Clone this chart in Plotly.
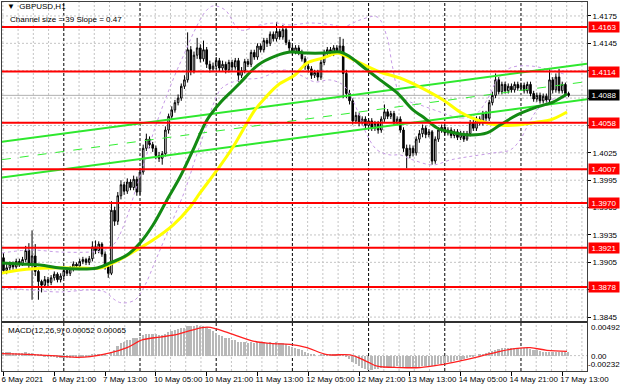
import plotly.graph_objects as go

# ---------------- data ----------------
opens = [1.3910,1.3896,1.3899,1.3903,1.3900,1.3906,1.3904,1.3908,1.3918,1.3903,
1.3912,1.3895,1.3884,1.3880,1.3886,1.3883,1.3888,1.3892,1.3886,1.3890,
1.3896,1.3893,1.3898,1.3903,1.3901,1.3906,1.3908,1.3905,1.3909,1.3922,
1.3918,1.3925,1.3914,1.3900,1.3893,1.3962,1.3950,1.3978,1.3990,1.3983,
1.3993,1.3987,1.3996,1.3982,1.4004,1.4030,1.4040,1.4034,1.4030,1.4022,
1.4019,1.4024,1.4050,1.4065,1.4072,1.4080,1.4085,1.4098,1.4105,1.4138,
1.4115,1.4132,1.4140,1.4128,1.4138,1.4122,1.4117,1.4120,1.4126,1.4118,
1.4122,1.4116,1.4124,1.4119,1.4126,1.4110,1.4115,1.4125,1.4122,1.4135,
1.4130,1.4142,1.4138,1.4148,1.4145,1.4155,1.4150,1.4158,1.4152,1.4160,
1.4146,1.4140,1.4136,1.4140,1.4135,1.4128,1.4120,1.4117,1.4110,1.4113,
1.4108,1.4124,1.4135,1.4138,1.4134,1.4140,1.4136,1.4142,1.4112,1.4090,
1.4082,1.4060,1.4066,1.4058,1.4062,1.4055,1.4060,1.4052,1.4057,1.4050,
1.4062,1.4070,1.4065,1.4068,1.4058,1.4062,1.4050,1.4030,1.4022,1.4030,
1.4025,1.4040,1.4046,1.4052,1.4045,1.4048,1.4016,1.4040,1.4050,1.4053,
1.4047,1.4050,1.4044,1.4048,1.4042,1.4046,1.4040,1.4046,1.4058,1.4052,
1.4062,1.4058,1.4068,1.4063,1.4080,1.4088,1.4105,1.4092,1.4100,1.4093,
1.4098,1.4094,1.4100,1.4096,1.4099,1.4093,1.4100,1.4090,1.4084,1.4088,
1.4082,1.4087,1.4083,1.4105,1.4094,1.4108,1.4093,1.4100,1.4090]

highs = [1.3915,1.3903,1.3906,1.3906,1.3909,1.3909,1.3911,1.3923,1.3926,1.3940,
1.3925,1.3900,1.3886,1.3890,1.3889,1.3891,1.3895,1.3894,1.3893,1.3899,
1.3899,1.3901,1.3906,1.3905,1.3909,1.3911,1.3910,1.3912,1.3928,1.3929,
1.3928,1.3927,1.3917,1.3903,1.3972,1.3966,1.3982,1.3995,1.3993,1.3997,
1.3996,1.4000,1.3999,1.4008,1.4034,1.4046,1.4043,1.4037,1.4033,1.4026,
1.4027,1.4054,1.4068,1.4076,1.4083,1.4089,1.4101,1.4110,1.4157,1.4142,
1.4136,1.4151,1.4144,1.4148,1.4141,1.4126,1.4124,1.4130,1.4129,1.4126,
1.4125,1.4127,1.4127,1.4129,1.4129,1.4119,1.4128,1.4128,1.4138,1.4138,
1.4145,1.4145,1.4151,1.4151,1.4158,1.4158,1.4168,1.4161,1.4165,1.4162,
1.4149,1.4143,1.4143,1.4143,1.4138,1.4131,1.4123,1.4120,1.4116,1.4116,
1.4127,1.4138,1.4141,1.4141,1.4143,1.4143,1.4152,1.4150,1.4116,1.4094,
1.4085,1.4070,1.4069,1.4065,1.4065,1.4063,1.4063,1.4060,1.4060,1.4065,
1.4078,1.4073,1.4071,1.4071,1.4065,1.4065,1.4053,1.4034,1.4034,1.4033,
1.4043,1.4050,1.4056,1.4055,1.4051,1.4050,1.4043,1.4053,1.4056,1.4056,
1.4053,1.4053,1.4051,1.4051,1.4049,1.4049,1.4049,1.4061,1.4061,1.4065,
1.4065,1.4071,1.4071,1.4083,1.4092,1.4112,1.4108,1.4103,1.4103,1.4101,
1.4101,1.4103,1.4103,1.4102,1.4102,1.4103,1.4103,1.4093,1.4091,1.4091,
1.4090,1.4090,1.4118,1.4108,1.4112,1.4117,1.4103,1.4102,1.4092]

lows = [1.3893,1.3892,1.3896,1.3897,1.3898,1.3900,1.3901,1.3905,1.3898,1.3864,
1.3890,1.3864,1.3872,1.3877,1.3879,1.3880,1.3885,1.3883,1.3883,1.3887,
1.3890,1.3890,1.3895,1.3898,1.3898,1.3903,1.3902,1.3902,1.3906,1.3914,
1.3915,1.3911,1.3897,1.3888,1.3891,1.3945,1.3946,1.3974,1.3979,1.3980,
1.3984,1.3984,1.3978,1.3979,1.4001,1.4027,1.4030,1.4026,1.4018,1.4015,
1.4012,1.4021,1.4046,1.4062,1.4069,1.4077,1.4082,1.4095,1.4102,1.4110,
1.4112,1.4128,1.4124,1.4125,1.4118,1.4113,1.4114,1.4117,1.4114,1.4115,
1.4112,1.4113,1.4115,1.4116,1.4103,1.4107,1.4112,1.4119,1.4119,1.4127,
1.4127,1.4135,1.4135,1.4141,1.4142,1.4147,1.4147,1.4149,1.4149,1.4143,
1.4136,1.4132,1.4133,1.4132,1.4125,1.4116,1.4113,1.4106,1.4107,1.4104,
1.4105,1.4121,1.4132,1.4131,1.4131,1.4133,1.4133,1.4085,1.4085,1.4078,
1.4056,1.4057,1.4054,1.4055,1.4051,1.4052,1.4049,1.4049,1.4046,1.4047,
1.4059,1.4062,1.4062,1.4055,1.4055,1.4047,1.4026,1.4008,1.4019,1.4021,
1.4022,1.4036,1.4042,1.4041,1.4042,1.4012,1.4013,1.4037,1.4047,1.4044,
1.4044,1.4041,1.4041,1.4039,1.4039,1.4037,1.4038,1.4043,1.4049,1.4049,
1.4055,1.4055,1.4060,1.4060,1.4077,1.4085,1.4089,1.4089,1.4090,1.4090,
1.4091,1.4091,1.4093,1.4093,1.4090,1.4090,1.4087,1.4081,1.4081,1.4079,
1.4079,1.4080,1.4080,1.4090,1.4091,1.4090,1.4090,1.4087,1.4086]

closes = [1.3896,1.3899,1.3903,1.3900,1.3906,1.3904,1.3908,1.3918,1.3903,1.3912,
1.3895,1.3884,1.3880,1.3886,1.3883,1.3888,1.3892,1.3886,1.3890,1.3896,
1.3893,1.3898,1.3903,1.3901,1.3906,1.3908,1.3905,1.3909,1.3922,1.3918,
1.3925,1.3914,1.3900,1.3893,1.3962,1.3950,1.3978,1.3990,1.3983,1.3993,
1.3987,1.3996,1.3982,1.4004,1.4030,1.4040,1.4034,1.4030,1.4022,1.4019,
1.4024,1.4050,1.4065,1.4072,1.4080,1.4085,1.4098,1.4105,1.4138,1.4115,
1.4132,1.4140,1.4128,1.4138,1.4122,1.4117,1.4120,1.4126,1.4118,1.4122,
1.4116,1.4124,1.4119,1.4126,1.4110,1.4115,1.4125,1.4122,1.4135,1.4130,
1.4142,1.4138,1.4148,1.4145,1.4155,1.4150,1.4158,1.4152,1.4160,1.4146,
1.4140,1.4136,1.4140,1.4135,1.4128,1.4120,1.4117,1.4110,1.4113,1.4108,
1.4124,1.4135,1.4138,1.4134,1.4140,1.4136,1.4142,1.4112,1.4090,1.4082,
1.4060,1.4066,1.4058,1.4062,1.4055,1.4060,1.4052,1.4057,1.4050,1.4062,
1.4070,1.4065,1.4068,1.4058,1.4062,1.4050,1.4030,1.4022,1.4030,1.4025,
1.4040,1.4046,1.4052,1.4045,1.4048,1.4016,1.4040,1.4050,1.4053,1.4047,
1.4050,1.4044,1.4048,1.4042,1.4046,1.4040,1.4046,1.4058,1.4052,1.4062,
1.4058,1.4068,1.4063,1.4080,1.4088,1.4105,1.4092,1.4100,1.4093,1.4098,
1.4094,1.4100,1.4096,1.4099,1.4093,1.4100,1.4090,1.4084,1.4088,1.4082,
1.4087,1.4083,1.4105,1.4094,1.4108,1.4093,1.4100,1.4090,1.4088]

# time-axis labels (every 16 hourly bars)
time_labels = ["6 May 2021", "6 May 21:00", "7 May 13:00", "10 May 05:00", "10 May 21:00",
               "11 May 13:00", "12 May 05:00", "12 May 21:00", "13 May 13:00",
               "14 May 05:00", "14 May 21:00", "17 May 13:00"]
time_label_bars = [0, 16, 32, 48, 64, 80, 96, 112, 128, 144, 160, 176]
day_start_bars = [19, 43, 67, 91, 115, 139, 163]

# moving averages (bar index, price)
ma_green_bar = [-0.5, 5.2, 11.5, 17.8, 24.1, 29.5, 33.6, 38.9, 43, 47.1, 51.5, 55.6, 59.7, 64.1, 68.2,
                72.3, 74.5, 80.2, 85.8, 90.3, 95.6, 100.7, 106, 109.2, 113.3, 118.6, 124, 129, 132.2,
                136.6, 140.7, 147, 152.3, 156.4, 161.8, 168.1, 173.1, 177.5]
ma_green_val = [1.39043, 1.39032, 1.39021, 1.38988, 1.38977, 1.38988, 1.39043, 1.39130, 1.39262,
                1.39459, 1.39734, 1.39985, 1.40281, 1.40610, 1.40796, 1.40939, 1.41016, 1.41213,
                1.41312, 1.41355, 1.41344, 1.41344, 1.41355, 1.41301, 1.41191, 1.41049, 1.40906,
                1.40720, 1.40643, 1.40522, 1.40479, 1.40446, 1.40468, 1.40555, 1.40665, 1.40753,
                1.40807, 1.40895]
ma_yellow_bar = [-0.5, 5.2, 14.7, 24.1, 30.4, 34.5, 40.8, 47.1, 53.4, 58.8, 61.9, 67.3, 72.3, 79.2,
                 82.4, 86.5, 91.8, 95.6, 100.7, 105.1, 107, 112.3, 118.6, 124.9, 131.2, 138.5,
                 143.8, 149.2, 155.5, 161.8, 168.1, 172.2, 177.5]
ma_yellow_val = [1.38933, 1.38966, 1.38988, 1.38988, 1.38988, 1.39043, 1.39163, 1.39295, 1.39459,
                 1.39657, 1.39810, 1.40062, 1.40314, 1.40720, 1.40852, 1.40994, 1.41103, 1.41235,
                 1.41290, 1.41344, 1.41323, 1.41235, 1.41136, 1.41070, 1.40970, 1.40829, 1.40698,
                 1.40610, 1.40555, 1.40555, 1.40588, 1.40610, 1.40698]

# envelope bands (bar index, price)
band_up_bar = [-0.5, 8.3, 17.8, 27.3, 32, 35.1, 38.3, 41.4, 44.6, 47.7, 50.9, 54, 57.2, 60.3, 63.5,
               66, 69.8, 74.5, 80.8, 85.5, 90.3, 96.6, 103.8, 107, 112.3, 117.7, 120.8, 122.5,
               124.9, 128.1, 131.2, 137.5, 143.8, 148.5, 152.3, 155.5, 159.6, 165.9, 172.2, 177.5]
band_up_val = [1.39152, 1.39185, 1.39163, 1.39163, 1.39185, 1.39262, 1.39492, 1.39821, 1.40172,
               1.40522, 1.40829, 1.41103, 1.41355, 1.41597, 1.41794, 1.41860, 1.41816, 1.41597,
               1.41651, 1.41673, 1.41651, 1.41673, 1.41651, 1.41629, 1.41706, 1.41739, 1.41520,
               1.41200, 1.40884, 1.40807, 1.40775, 1.40698, 1.40632, 1.40665, 1.40829, 1.41049,
               1.41180, 1.41202, 1.41158, 1.41103]
band_dn_bar = [-0.5, 8.3, 17.8, 27.3, 32, 35.1, 37.3, 41.4, 44.6, 47.7, 50.9, 54, 57.2, 60.3, 63.5,
               66, 68.8, 74.5, 80.8, 88.1, 93.4, 98.1, 102.8, 107, 109.2, 111.4, 114.5, 117.7,
               121.8, 124.9, 129, 135.3, 140.7, 146, 154.2, 159.6, 162.7, 164.9, 168.1, 172.2, 177.5]
band_dn_val = [1.38769, 1.38747, 1.38725, 1.38747, 1.38725, 1.38638, 1.38605, 1.38638, 1.38802,
               1.39054, 1.39317, 1.39569, 1.39843, 1.40172, 1.40500, 1.40775, 1.40961, 1.41049,
               1.41070, 1.41158, 1.41103, 1.41027, 1.41049, 1.40994, 1.40884, 1.40720, 1.40446,
               1.40281, 1.40227, 1.40227, 1.40172, 1.40117, 1.40172, 1.40205, 1.40248, 1.40281,
               1.40391, 1.40533, 1.40720, 1.40829, 1.40862]

# regression channel (left edge, right edge)
channel_bar = [-0.5, 183.8]
channel_upper = [1.40370, 1.41226]
channel_middle = [1.40175, 1.41031]
channel_lower = [1.39980, 1.40836]

# support / resistance levels and current price
levels = [1.4163, 1.4114, 1.4058, 1.4007, 1.3970, 1.3921, 1.3878]
current_price = 1.4088
price_ticks = [1.4175, 1.4145, 1.4115, 1.4085, 1.4055, 1.4025, 1.3995, 1.3965, 1.3935, 1.3905, 1.3875, 1.3845]
price_tick_text = ["1.4175", "1.4145", "", "", "", "1.4025", "1.3995", "1.3965", "1.3935", "1.3905", "", "1.3845"]

# MACD(12,26,9)
macd_hist = [0.0005,0.0005,0.0005,0.0004,0.0004,0.0004,0.0004,0.0005,0.0004,0.0004,
0.0003,0.0002,0.0001,-0.0001,-0.0002,-0.0002,-0.0002,-0.0003,-0.0003,-0.0003,
-0.0003,-0.0003,-0.0002,-0.0002,-0.0002,-0.0001,-0.0001,-0.0001,0.0001,0.0001,
0.0002,0.0002,0.0001,0.0000,0.0006,0.0009,0.0014,0.0019,0.0021,0.0023,
0.0024,0.0026,0.0026,0.0028,0.0031,0.0033,0.0033,0.0033,0.0032,0.0031,
0.0031,0.0033,0.0035,0.0037,0.0038,0.0040,0.0041,0.0042,0.0045,0.0044,
0.0045,0.0046,0.0045,0.0045,0.0043,0.0040,0.0037,0.0034,0.0031,0.0029,
0.0027,0.0026,0.0024,0.0024,0.0021,0.0020,0.0020,0.0019,0.0020,0.0019,
0.0020,0.0019,0.0020,0.0019,0.0020,0.0019,0.0020,0.0019,0.0019,0.0017,
0.0015,0.0013,0.0012,0.0010,0.0008,0.0006,0.0004,0.0002,0.0001,0.0000,
0.0001,0.0002,0.0002,0.0002,0.0003,0.0003,0.0003,0.0001,-0.0002,-0.0005,
-0.0009,-0.0012,-0.0016,-0.0018,-0.0020,-0.0021,-0.0021,-0.0020,-0.0020,-0.0019,
-0.0018,-0.0017,-0.0017,-0.0017,-0.0016,-0.0017,-0.0018,-0.0019,-0.0019,-0.0019,
-0.0018,-0.0017,-0.0016,-0.0016,-0.0015,-0.0016,-0.0015,-0.0013,-0.0012,-0.0011,
-0.0010,-0.0009,-0.0008,-0.0007,-0.0006,-0.0005,-0.0004,-0.0002,-0.0001,0.0000,
0.0001,0.0003,0.0004,0.0006,0.0007,0.0009,0.0010,0.0011,0.0011,0.0012,
0.0012,0.0012,0.0012,0.0012,0.0011,0.0011,0.0010,0.0009,0.0008,0.0007,
0.0006,0.0005,0.0006,0.0006,0.0006,0.0006,0.0006,0.0005,0.00052]
signal_bar = [-0.5, 9.3, 17.8, 23.2, 27.3, 33.6, 38.9, 43.9, 49.3, 54.7, 59.7, 64.1, 67.3, 72.3,
              78.6, 84.9, 90.3, 95.6, 101.9, 109.2, 114.5, 117.7, 124.9, 131.2, 137.5, 143.8,
              150.1, 156.4, 161.8, 165.9, 171.2, 177.5]
signal_val = [0.0003, 0.00015, -0.0001, -0.00025, -0.00015, 0.0004, 0.0012, 0.0024, 0.0028, 0.0032,
              0.0039, 0.0043, 0.0040, 0.0032, 0.0022, 0.0018, 0.0017, 0.0012, 0.00015, 0.0001,
              -0.0009, -0.0016, -0.0018, -0.0018, -0.0014, -0.0008, -0.0001, 0.00065, 0.0011,
              0.0012, 0.0008, 0.00065]
macd_ticks = [0.00492, 0.0, -0.00232]

# ---------------- figure ----------------
FONT = "Liberation Sans"
FS = 8
bars = list(range(len(closes)))
XR = [-0.47, 183.8]

fig = go.Figure()
fig.add_trace(go.Candlestick(
    x=bars, open=opens, high=highs, low=lows, close=closes,
    increasing=dict(line=dict(color="black", width=1), fillcolor="white"),
    decreasing=dict(line=dict(color="black", width=1), fillcolor="black"),
    whiskerwidth=0, xaxis="x", yaxis="y", showlegend=False, hoverinfo="skip"))

for bx, by in [(band_up_bar, band_up_val), (band_dn_bar, band_dn_val)]:
    fig.add_trace(go.Scatter(x=bx, y=by, mode="lines", line=dict(color="#c79be6", width=1, dash="dot", shape="spline"),
                             xaxis="x", yaxis="y", showlegend=False, hoverinfo="skip"))

fig.add_trace(go.Scatter(x=channel_bar, y=channel_middle, mode="lines",
                         line=dict(color="#33ee33", width=1, dash="dash"), xaxis="x", yaxis="y", showlegend=False))
for ch in (channel_upper, channel_lower):
    fig.add_trace(go.Scatter(x=channel_bar, y=ch, mode="lines",
                             line=dict(color="#2ee82e", width=2), xaxis="x", yaxis="y", showlegend=False))

fig.add_trace(go.Scatter(x=ma_yellow_bar, y=ma_yellow_val, mode="lines",
                         line=dict(color="#ffff00", width=3, shape="spline"), xaxis="x", yaxis="y", showlegend=False))
fig.add_trace(go.Scatter(x=ma_green_bar, y=ma_green_val, mode="lines",
                         line=dict(color="#138a13", width=3, shape="spline"), xaxis="x", yaxis="y", showlegend=False))

fig.add_trace(go.Bar(x=bars, y=macd_hist, marker=dict(color="#b8b8b8", line=dict(width=0)), width=0.55,
                     xaxis="x2", yaxis="y2", showlegend=False, hoverinfo="skip"))
fig.add_trace(go.Scatter(x=signal_bar, y=signal_val, mode="lines", line=dict(color="#ff2020", width=1.3, shape="spline"),
                         xaxis="x2", yaxis="y2", showlegend=False))

# pixel geometry: plot area x 2..587, y 2..371 (main 2..321, macd 323..371)
H_PLOT = 369.0
main_dom = [(371 - 321) / H_PLOT, 1.0]
macd_dom = [0.0, (371 - 323) / H_PLOT]

shapes = []
grid_col = "#c4c4c4"
for d in range(-1, 8):
    for k in range(1, 5):
        gx = 19 + 24 * d + 4.8 * k
        if XR[0] < gx < XR[1]:
            shapes.append(dict(type="line", xref="x", yref="paper", x0=gx, x1=gx, y0=0, y1=1,
                               line=dict(color=grid_col, width=1, dash="2px,2px"), layer="below"))
for b in day_start_bars:
    shapes.append(dict(type="line", xref="x", yref="paper", x0=b, x1=b, y0=0, y1=1,
                       line=dict(color="black", width=1, dash="3px,2px"), layer="below"))
for t in price_ticks:
    shapes.append(dict(type="line", xref="paper", yref="y", x0=0, x1=1, y0=t, y1=t,
                       line=dict(color=grid_col, width=1, dash="2px,2px"), layer="below"))
shapes.append(dict(type="line", xref="paper", yref="y2", x0=0, x1=1, y0=0, y1=0,
                   line=dict(color=grid_col, width=1, dash="2px,2px"), layer="below"))
shapes.append(dict(type="line", xref="paper", yref="y", x0=0, x1=1, y0=current_price, y1=current_price,
                   line=dict(color="#b0b0b0", width=1), layer="below"))
for lv in levels:
    shapes.append(dict(type="line", xref="paper", yref="y", x0=0, x1=1, y0=lv, y1=lv,
                       line=dict(color="#ff0000", width=2), layer="above"))
shapes.append(dict(type="line", xref="paper", yref="paper", x0=0, x1=1, y0=(371 - 322) / H_PLOT, y1=(371 - 322) / H_PLOT,
                   line=dict(color="#303030", width=2), layer="above"))

annotations = []
for lv in levels:
    annotations.append(dict(xref="paper", yref="y", x=1, y=lv, xanchor="left", yanchor="middle", xshift=1,
                            text=f"{lv:.4f}", showarrow=False, bgcolor="#ff0000", width=30, height=10,
                            align="center", borderpad=0, font=dict(family=FONT, size=FS, color="white")))
annotations.append(dict(xref="paper", yref="y", x=1, y=current_price, xanchor="left", yanchor="middle", xshift=1,
                        text=f"{current_price:.4f}", showarrow=False, bgcolor="#000000", width=30, height=10,
                        align="center", borderpad=0, font=dict(family=FONT, size=FS, color="white")))
macd_anchor = ["top", "middle", "bottom"]
macd_shift = [1, -1, 1]
for v, a, ys in zip(macd_ticks, macd_anchor, macd_shift):
    txt = "0.00" if v == 0 else f"{v:.5f}"
    annotations.append(dict(xref="paper", yref="y2", x=1, y=v, xanchor="left", yanchor=a, xshift=3 if v >= 0 else 0,
                            yshift=ys, text=txt, showarrow=False, borderpad=0,
                            font=dict(family=FONT, size=FS, color="black")))
annotations.append(dict(xref="paper", yref="paper", x=0, y=(371 - 7) / H_PLOT, xanchor="left", yanchor="middle", xshift=3,
                        text="\u25BC  GBPUSD,H1", showarrow=False, font=dict(family=FONT, size=FS, color="black")))
annotations.append(dict(xref="paper", yref="paper", x=0, y=(371 - 19) / H_PLOT, xanchor="left", yanchor="middle", xshift=6,
                        text="Channel size = 39 Slope = 0.47", showarrow=False, font=dict(family=FONT, size=FS, color="black")))
annotations.append(dict(xref="paper", yref="paper", x=0, y=(371 - 330) / H_PLOT, xanchor="left", yanchor="middle", xshift=4,
                        text="MACD(12,26,9) 0.00052 0.00065", showarrow=False, font=dict(family=FONT, size=FS, color="black")))

fig.update_layout(
    width=620, height=388, margin=dict(l=2, r=33, t=2, b=17),
    paper_bgcolor="white", plot_bgcolor="white", showlegend=False, bargap=0,
    font=dict(family=FONT, size=FS, color="black"),
    xaxis=dict(domain=[0, 1], range=XR, anchor="y", showticklabels=False, showgrid=False, zeroline=False,
               rangeslider=dict(visible=False), showline=True, linecolor="#404040", linewidth=1, mirror=True, ticks=""),
    yaxis=dict(domain=main_dom, range=[1.38407, 1.41903], side="right", tickvals=price_ticks,
               ticktext=price_tick_text, showgrid=False, zeroline=False,
               ticks="outside", ticklen=3, tickcolor="black", showline=True, linecolor="#404040", linewidth=1, mirror=True,
               tickfont=dict(family=FONT, size=FS)),
    xaxis2=dict(domain=[0, 1], range=XR, anchor="y2", tickvals=time_label_bars, ticktext=time_labels,
                ticks="outside", ticklen=4, tickcolor="black", ticklabelposition="outside right", tickangle=0,
                ticklabelshift=-3, ticklabelstandoff=0,
                showgrid=False, zeroline=False, showline=True, linecolor="#404040", linewidth=1, mirror=True,
                tickfont=dict(family=FONT, size=FS)),
    yaxis2=dict(domain=macd_dom, range=[-0.00232, 0.00492], side="right", showticklabels=False, ticks="",
                showgrid=False, zeroline=False, showline=True, linecolor="#404040", linewidth=1, mirror=True),
    shapes=shapes, annotations=annotations,
)

fig.write_html("out.html", config={"displayModeBar": False},
               post_script="document.body.style.margin='0';document.body.style.padding='0';document.body.style.overflow='hidden';")
